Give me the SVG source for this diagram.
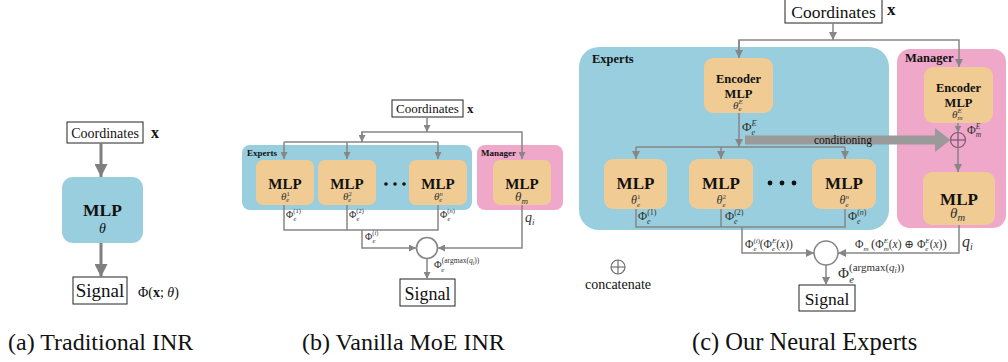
<svg xmlns="http://www.w3.org/2000/svg" width="1008" height="362" viewBox="0 0 1008 362" font-family="'Liberation Serif', 'DejaVu Serif', serif">
<style>
text{font-family:'Liberation Serif','DejaVu Serif',serif}
.t{fill:#111}
.m{fill:#333}
.b{font-weight:bold}
.i{font-style:italic}
.c{text-anchor:middle}
.ln{stroke:#868686;stroke-width:1.5;fill:none}
.lnA{stroke:#7f7f7f;stroke-width:3;fill:none}
.box{fill:#fff;stroke:#222;stroke-width:1}
.blue{fill:#98cedd}
.pink{fill:#efa8ca}
.org{fill:#f0cb94}
.circ{fill:#fff;stroke:#868686;stroke-width:1.6}
</style>
<defs>
<marker id="ah" viewBox="0 0 10 10" refX="10" refY="5" markerWidth="7" markerHeight="7" markerUnits="userSpaceOnUse" orient="auto"><path d="M0,0 L10,5 L0,10 z" fill="#868686"/></marker>
<marker id="ahc" viewBox="0 0 10 10" refX="10" refY="5" markerWidth="9" markerHeight="8" markerUnits="userSpaceOnUse" orient="auto"><path d="M0,0 L10,5 L0,10 z" fill="#868686"/></marker>
<marker id="ahL" viewBox="0 0 10 10" refX="10" refY="5" markerWidth="14" markerHeight="13" markerUnits="userSpaceOnUse" orient="auto"><path d="M0,0 L10,5 L0,10 z" fill="#7f7f7f"/></marker>
</defs>

<!-- ================= Panel (a) ================= -->
<g id="a-nodes">
  <g id="a-coords">
    <rect class="box" x="67" y="122" width="76" height="21"/>
    <text class="t c" x="105" y="137.5" font-size="14">Coordinates</text>
    <text class="t b" x="151" y="137.5" font-size="16">x</text>
  </g>
  <g id="a-mlp">
    <rect class="blue" x="62" y="177" width="81" height="66" rx="11"/>
    <text class="t b c" x="102.5" y="216" font-size="17.5">MLP</text>
    <text class="t i c" x="102.5" y="233" font-size="14">θ</text>
  </g>
  <g id="a-signal">
    <rect class="box" x="73" y="277" width="54" height="27"/>
    <text class="t c" x="100" y="297" font-size="19">Signal</text>
    <text class="t" x="138" y="297" font-size="14">Φ(<tspan class="b">x</tspan>; <tspan class="i">θ</tspan>)</text>
  </g>
</g>
<g id="a-connectors">
  <line class="lnA" x1="101" y1="143" x2="101" y2="177" marker-end="url(#ahL)"/>
  <line class="lnA" x1="101" y1="243" x2="101" y2="277" marker-end="url(#ahL)"/>
</g>

<!-- ================= Panel (b) ================= -->
<g id="b-nodes">
  <g id="b-experts">
    <rect class="blue" x="242" y="145" width="230" height="65" rx="8"/>
    <text class="t b" x="247" y="155.5" font-size="9">Experts</text>
  </g>
  <g id="b-manager">
    <rect class="pink" x="477" y="145" width="86" height="65" rx="8"/>
    <text class="t b" x="481" y="155.5" font-size="9">Manager</text>
  </g>
  <g id="b-coords">
    <rect class="box" x="392" y="100" width="71" height="17"/>
    <text class="t c" x="427.5" y="113" font-size="13">Coordinates</text>
    <text class="t b" x="467" y="113" font-size="13">x</text>
  </g>
  <g id="b-mlp1">
    <rect class="org" x="256" y="160" width="58" height="45" rx="7"/>
    <text class="t b c" x="285" y="189" font-size="15">MLP</text>
    <text class="m i" x="281" y="200" font-size="11">θ<tspan font-size="6.5" dy="-4.5" font-style="normal">1</tspan><tspan font-size="6.5" dx="-3.3" dy="6.5">e</tspan></text>
  </g>
  <g id="b-mlp2">
    <rect class="org" x="318" y="160" width="58" height="45" rx="7"/>
    <text class="t b c" x="347" y="189" font-size="15">MLP</text>
    <text class="m i" x="343" y="200" font-size="11">θ<tspan font-size="6.5" dy="-4.5" font-style="normal">2</tspan><tspan font-size="6.5" dx="-3.3" dy="6.5">e</tspan></text>
  </g>
  <g id="b-dots">
    <circle cx="386" cy="184" r="1.8" fill="#111"/>
    <circle cx="395" cy="184" r="1.8" fill="#111"/>
    <circle cx="404" cy="184" r="1.8" fill="#111"/>
  </g>
  <g id="b-mlpn">
    <rect class="org" x="409" y="160" width="58" height="45" rx="7"/>
    <text class="t b c" x="438" y="189" font-size="15">MLP</text>
    <text class="m i" x="434" y="200" font-size="11">θ<tspan font-size="6.5" dy="-4.5">n</tspan><tspan font-size="6.5" dx="-3.3" dy="6.5">e</tspan></text>
  </g>
  <g id="b-mlpm">
    <rect class="org" x="493" y="160" width="58" height="45" rx="7"/>
    <text class="t b c" x="522" y="189" font-size="15">MLP</text>
    <text class="m i" x="515" y="201" font-size="13">θ<tspan font-size="9" dy="2.5">m</tspan></text>
  </g>
  <g id="b-gate">
    <circle class="circ" cx="427" cy="248" r="10.5"/>
  </g>
  <g id="b-signal">
    <rect class="box" x="400" y="279" width="55" height="27"/>
    <text class="t c" x="427.5" y="299.5" font-size="18">Signal</text>
  </g>
</g>
<g id="b-connectors">
  <line class="ln" x1="427" y1="117" x2="427" y2="132" marker-end="url(#ah)"/>
  <polyline class="ln" points="362,142 362,132 522,132 522,159" marker-end="url(#ah)"/>
  <line class="ln" x1="362" y1="132" x2="362" y2="142" marker-end="url(#ah)"/>
  <line class="ln" x1="284" y1="142" x2="438" y2="142"/>
  <line class="ln" x1="284" y1="142" x2="284" y2="159" marker-end="url(#ah)"/>
  <line class="ln" x1="347" y1="142" x2="347" y2="159" marker-end="url(#ah)"/>
  <line class="ln" x1="438" y1="142" x2="438" y2="159" marker-end="url(#ah)"/>
  <polyline class="ln" points="284,205 284,230 438,230 438,205"/>
  <line class="ln" x1="347" y1="205" x2="347" y2="230"/>
  <polyline class="ln" points="362,230 362,248 416,248" marker-end="url(#ah)"/>
  <polyline class="ln" points="522,205 522,248 438,248" marker-end="url(#ah)"/>
  <line class="ln" x1="427" y1="258.5" x2="427" y2="279" marker-end="url(#ah)"/>
  <text class="m" x="286" y="218" font-size="10">Φ<tspan font-size="6.5" dy="-5">(1)</tspan><tspan class="i" font-size="6.5" dx="-7.5" dy="8">e</tspan></text>
  <text class="m" x="349" y="218" font-size="10">Φ<tspan font-size="6.5" dy="-5">(2)</tspan><tspan class="i" font-size="6.5" dx="-7.5" dy="8">e</tspan></text>
  <text class="m" x="440" y="218" font-size="10">Φ<tspan font-size="6.5" dy="-5">(<tspan class="i">n</tspan>)</tspan><tspan class="i" font-size="6.5" dx="-7.5" dy="8">e</tspan></text>
  <text class="m" x="365" y="240" font-size="10">Φ<tspan font-size="6.5" dy="-5">(<tspan class="i">i</tspan>)</tspan><tspan class="i" font-size="6.5" dx="-6" dy="8">e</tspan></text>
  <text class="m i" x="525" y="222" font-size="14">q<tspan font-size="9" dy="2.5">i</tspan></text>
  <text class="m" x="434" y="268" font-size="10.5">Φ<tspan font-size="7.5" dy="-5">(argmax(<tspan class="i">q</tspan><tspan class="i" font-size="5.5" dy="1.5">i</tspan><tspan dy="-1.5">))</tspan></tspan><tspan class="i" font-size="7" dx="-38" dy="8.5">e</tspan></text>
</g>

<!-- ================= Panel (c) ================= -->
<g id="c-nodes">
  <g id="c-experts">
    <rect class="blue" x="579" y="47" width="310" height="183" rx="20"/>
    <text class="t b" x="592" y="63" font-size="12.5">Experts</text>
  </g>
  <g id="c-manager">
    <rect class="pink" x="897" y="49" width="109" height="179" rx="13"/>
    <text class="t b" x="905" y="62" font-size="12.5">Manager</text>
  </g>
  <g id="c-coords">
    <rect class="box" x="785" y="-1" width="97" height="24"/>
    <text class="t c" x="833.5" y="18" font-size="17.5">Coordinates</text>
    <text class="t b" x="887" y="15" font-size="17">x</text>
  </g>
  <g id="c-enc-e">
    <rect class="org" x="704" y="58" width="69" height="55" rx="9"/>
    <text class="t b c" x="738.5" y="83" font-size="12.5">Encoder</text>
    <text class="t b c" x="738.5" y="97.5" font-size="12.5">MLP</text>
    <text class="m i" x="733" y="108.5" font-size="11">θ<tspan font-size="7" dy="-4.5">E</tspan><tspan font-size="7" dx="-4.3" dy="7">e</tspan></text>
  </g>
  <g id="c-enc-m">
    <rect class="org" x="924" y="67" width="69" height="56" rx="9"/>
    <text class="t b c" x="958.5" y="92" font-size="12.5">Encoder</text>
    <text class="t b c" x="958.5" y="106.5" font-size="12.5">MLP</text>
    <text class="m i" x="952" y="117.5" font-size="11">θ<tspan font-size="7" dy="-4.5">E</tspan><tspan font-size="7" dx="-4.3" dy="7">m</tspan></text>
  </g>
  <g id="c-concat">
    <circle cx="958" cy="140" r="7.5" fill="none" stroke="#7a5670" stroke-width="1.2"/>
    <line x1="950.5" y1="140" x2="965.5" y2="140" stroke="#7a5670" stroke-width="1.2"/>
    <line x1="958" y1="132.5" x2="958" y2="147.5" stroke="#7a5670" stroke-width="1.2"/>
  </g>
  <g id="c-mlp1">
    <rect class="org" x="604" y="159" width="63" height="50" rx="9"/>
    <text class="t b c" x="635.5" y="189" font-size="17">MLP</text>
    <text class="m i" x="631" y="204" font-size="12">θ<tspan font-size="7" dy="-5" font-style="normal">1</tspan><tspan font-size="7" dx="-3.5" dy="7.5">e</tspan></text>
  </g>
  <g id="c-mlp2">
    <rect class="org" x="689" y="159" width="64" height="50" rx="9"/>
    <text class="t b c" x="721" y="189" font-size="17">MLP</text>
    <text class="m i" x="716.5" y="204" font-size="12">θ<tspan font-size="7" dy="-5" font-style="normal">2</tspan><tspan font-size="7" dx="-3.5" dy="7.5">e</tspan></text>
  </g>
  <g id="c-dots">
    <circle cx="770" cy="183" r="2.4" fill="#111"/>
    <circle cx="782" cy="183" r="2.4" fill="#111"/>
    <circle cx="794" cy="183" r="2.4" fill="#111"/>
  </g>
  <g id="c-mlpn">
    <rect class="org" x="812" y="159" width="64" height="50" rx="9"/>
    <text class="t b c" x="844" y="189" font-size="17">MLP</text>
    <text class="m i" x="839.5" y="204" font-size="12">θ<tspan font-size="7" dy="-5">n</tspan><tspan font-size="7" dx="-3.5" dy="7.5">e</tspan></text>
  </g>
  <g id="c-mlpm">
    <rect class="org" x="923" y="172" width="72" height="53" rx="9"/>
    <text class="t b c" x="959" y="205" font-size="17">MLP</text>
    <text class="m i" x="950" y="218" font-size="15">θ<tspan font-size="10.5" dy="3">m</tspan></text>
  </g>
  <g id="c-gate">
    <circle class="circ" cx="826" cy="253" r="12"/>
  </g>
  <g id="c-signal">
    <rect class="box" x="799" y="285" width="56" height="26"/>
    <text class="t c" x="827" y="304.5" font-size="17.5">Signal</text>
  </g>
  <g id="c-legend">
    <circle cx="618" cy="267" r="7" fill="none" stroke="#666" stroke-width="1.1"/>
    <line x1="611" y1="267" x2="625" y2="267" stroke="#666" stroke-width="1.1"/>
    <line x1="618" y1="260" x2="618" y2="274" stroke="#666" stroke-width="1.1"/>
    <text class="t c" x="618" y="289" font-size="14">concatenate</text>
  </g>
</g>
<g id="c-connectors">
  <line class="ln" x1="833" y1="23" x2="833" y2="40" marker-end="url(#ahc)"/>
  <polyline class="ln" points="739,58 739,40 959,40 959,67" marker-end="url(#ahc)"/>
  <line class="ln" x1="739" y1="40" x2="739" y2="58" marker-end="url(#ahc)"/>
  <line class="ln" x1="739" y1="113" x2="739" y2="147" marker-end="url(#ahc)"/>
  <line class="ln" x1="636" y1="147" x2="845" y2="147"/>
  <line class="ln" x1="636" y1="147" x2="636" y2="159" marker-end="url(#ahc)"/>
  <line class="ln" x1="721" y1="147" x2="721" y2="159" marker-end="url(#ahc)"/>
  <line class="ln" x1="845" y1="147" x2="845" y2="159" marker-end="url(#ahc)"/>
  <line x1="958" y1="123" x2="958" y2="132.5" stroke="#8a7080" stroke-width="1.2" marker-end="url(#ah)"/>
  <line class="ln" x1="958" y1="147.5" x2="958" y2="172" marker-end="url(#ahc)"/>
  <path d="M745,135.5 L935,135.5 L935,128 L950.5,140 L935,152 L935,144.5 L745,144.5 Z" fill="#9a9a9a"/>
  <text class="t c" x="843" y="143.5" font-size="11.5">conditioning</text>
  <text class="m" x="742" y="131" font-size="13">Φ<tspan class="i" font-size="8.5" dy="-5.5">E</tspan><tspan class="i" font-size="8.5" dx="-5.2" dy="9">e</tspan></text>
  <text class="m" x="967" y="134" font-size="12">Φ<tspan class="i" font-size="7.5" dy="-5">E</tspan><tspan class="i" font-size="7.5" dx="-4.6" dy="8">m</tspan></text>
  <polyline class="ln" points="636,209 636,227 845,227 845,209"/>
  <line class="ln" x1="721" y1="209" x2="721" y2="227"/>
  <polyline class="ln" points="742,227 742,253 814,253" marker-end="url(#ahc)"/>
  <polyline class="ln" points="959,225 959,253 838,253" marker-end="url(#ahc)"/>
  <line class="ln" x1="826" y1="265" x2="826" y2="285" marker-end="url(#ahc)"/>
  <text class="m" x="638" y="220" font-size="12.5">Φ<tspan font-size="8" dy="-5.5">(1)</tspan><tspan class="i" font-size="8" dx="-9.5" dy="9">e</tspan></text>
  <text class="m" x="725" y="220" font-size="12.5">Φ<tspan font-size="8" dy="-5.5">(2)</tspan><tspan class="i" font-size="8" dx="-9.5" dy="9">e</tspan></text>
  <text class="m" x="848" y="220" font-size="12.5">Φ<tspan font-size="8" dy="-5.5">(<tspan class="i">n</tspan>)</tspan><tspan class="i" font-size="8" dx="-9.5" dy="9">e</tspan></text>
  <text class="m" x="745" y="248" font-size="11.5">Φ<tspan font-size="7" dy="-5">(<tspan class="i">i</tspan>)</tspan><tspan class="i" font-size="7" dx="-6.5" dy="7.5">e</tspan><tspan dx="3" dy="-2.5">(Φ</tspan><tspan class="i" font-size="7" dy="-5">E</tspan><tspan class="i" font-size="7" dx="-4.3" dy="7.5">e</tspan><tspan dx="1.2" dy="-2.5">(<tspan class="i">x</tspan>))</tspan></text>
  <text class="m" x="855" y="248" font-size="11.5">Φ<tspan class="i" font-size="7" dy="2.5">m</tspan><tspan dx="2.5" dy="-2.5" font-size="13">(</tspan>Φ<tspan class="i" font-size="7" dy="-5">E</tspan><tspan class="i" font-size="7" dx="-4.3" dy="7.5">m</tspan><tspan dy="-2.5">(<tspan class="i">x</tspan>) ⊕ Φ</tspan><tspan class="i" font-size="7" dy="-5">E</tspan><tspan class="i" font-size="7" dx="-4.3" dy="7.5">e</tspan><tspan dx="1.2" dy="-2.5">(<tspan class="i">x</tspan>)</tspan><tspan font-size="13">)</tspan></text>
  <text class="m i" x="962" y="247" font-size="16">q<tspan font-size="10" dy="3">i</tspan></text>
  <text class="m" x="838" y="278" font-size="15">Φ<tspan font-size="11" dy="-7">(argmax(<tspan class="i">q</tspan><tspan class="i" font-size="8" dy="2">i</tspan><tspan dy="-2">))</tspan></tspan><tspan class="i" font-size="10.5" dx="-55" dy="12">e</tspan></text>
</g>

<!-- captions -->
<g id="captions">
  <text class="t" x="8" y="350" font-size="24">(a) Traditional INR</text>
  <text class="t" x="302" y="350" font-size="24">(b) Vanilla MoE INR</text>
  <text class="t" x="692" y="350" font-size="24.5">(c) Our Neural Experts</text>
</g>
</svg>
